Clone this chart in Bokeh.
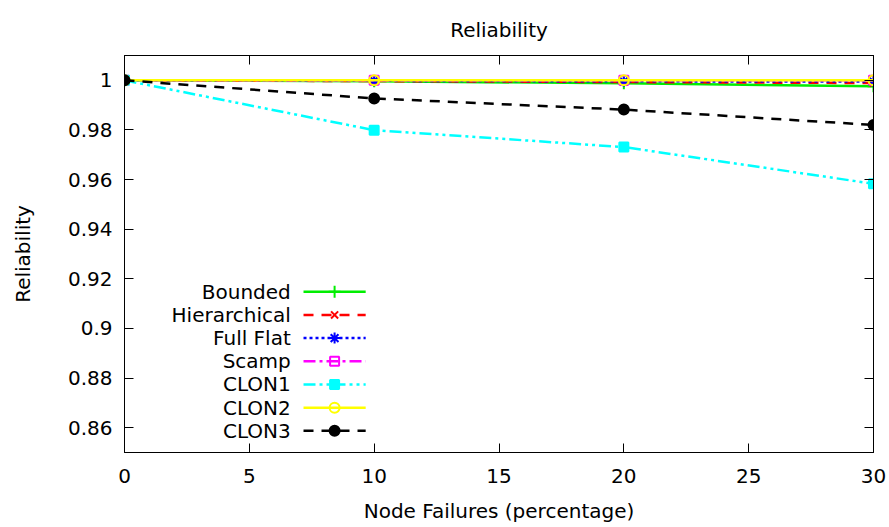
from bokeh.plotting import figure
from bokeh.models import FixedTicker, LinearAxis, Range1d, Label
from bokeh.embed import file_html
from bokeh.resources import INLINE

# ---- data ----
x = [0, 10, 20, 30]
bounded = [1.0, 0.9996, 0.9988, 0.9976]
hierarchical = [1.0, 0.9997, 0.9993, 0.9989]
full_flat = [1.0, 0.9998, 0.9996, 0.9995]
scamp = [1.0, 1.0, 1.0, 1.0]
clon1 = [1.0, 0.9799, 0.9731, 0.9583]
clon2 = [1.0, 1.0, 1.0, 1.0]
clon3 = [1.0, 0.9927, 0.9882, 0.9820]

series_names = ["Bounded", "Hierarchical", "Full Flat", "Scamp", "CLON1", "CLON2", "CLON3"]
series_values = [bounded, hierarchical, full_flat, scamp, clon1, clon2, clon3]

x_ticks = [0, 5, 10, 15, 20, 25, 30]
y_ticks = [0.86, 0.88, 0.90, 0.92, 0.94, 0.96, 0.98, 1.0]
y_tick_labels = ["0.86", "0.88", "0.9", "0.92", "0.94", "0.96", "0.98", "1"]

title_text = "Reliability"
x_label = "Node Failures (percentage)"
y_label = "Reliability"

# ---- styles ----
styles = [
    dict(color="#00ee00", dash="solid", marker="cross", fill=True),
    dict(color="#ff0000", dash="10 8", marker="x", fill=True),
    dict(color="#0000ff", dash="3 3", marker="asterisk", fill=True),
    dict(color="#ff00ff", dash="12 4 3 4", marker="square", fill=False),
    dict(color="#00ffff", dash="12 4 3 4 3 4", marker="square", fill=True),
    dict(color="#ffff00", dash="solid", marker="circle", fill=False),
    dict(color="#000000", dash="10 8", marker="circle", fill=True),
]
marker_sizes = {"cross": 12, "x": 10, "asterisk": 11, "square": 9, "circle": 10}

FONT = "DejaVu Sans"
FS = "20px"

x0, x1 = 0, 30
y0, y1 = 0.85, 1.01

p = figure(width=888, height=525, output_backend="svg", toolbar_location=None,
           x_range=Range1d(x0, x1), y_range=Range1d(y0, y1),
           min_border_left=124, min_border_right=15, min_border_top=55, min_border_bottom=70)

p.title.text = title_text
p.title.align = "center"
p.title.vertical_align = "bottom"
p.title.standoff = 28
p.title.text_font = FONT
p.title.text_font_size = FS
p.title.text_font_style = "normal"
p.title.text_color = "black"

p.grid.visible = False
p.outline_line_color = "black"
p.outline_line_width = 1
p.background_fill_color = "white"
p.border_fill_color = "white"

for ax in (p.xaxis[0], p.yaxis[0]):
    ax.major_tick_in = 9
    ax.major_tick_out = 0
    ax.minor_tick_line_color = None
    ax.axis_line_color = "black"
    ax.major_tick_line_color = "black"
    ax.major_label_text_font = FONT
    ax.major_label_text_font_size = FS
    ax.major_label_text_color = "black"
    ax.axis_label_text_font = FONT
    ax.axis_label_text_font_size = FS
    ax.axis_label_text_font_style = "normal"
    ax.axis_label_text_color = "black"

p.xaxis[0].ticker = FixedTicker(ticks=x_ticks)
p.yaxis[0].ticker = FixedTicker(ticks=y_ticks)
p.yaxis[0].major_label_overrides = {t: l for t, l in zip(y_ticks, y_tick_labels)}
p.xaxis[0].axis_label = x_label
p.yaxis[0].axis_label = y_label
p.xaxis[0].major_label_standoff = 16
p.yaxis[0].major_label_standoff = 12
p.xaxis[0].axis_label_standoff = 13
p.yaxis[0].axis_label_standoff = 30

# mirrored axes (ticks only)
top = LinearAxis(ticker=FixedTicker(ticks=x_ticks))
right = LinearAxis(ticker=FixedTicker(ticks=y_ticks))
top.major_label_overrides = {t: "" for t in x_ticks}
right.major_label_overrides = {t: "" for t in y_ticks}
for ax in (top, right):
    ax.major_tick_in = 9
    ax.major_tick_out = 0
    ax.minor_tick_line_color = None
    ax.major_label_standoff = 0
    ax.axis_line_color = "black"
    ax.major_tick_line_color = "black"
p.add_layout(top, "above")
p.add_layout(right, "right")

# series
for vals, st in zip(series_values, styles):
    p.line(x, vals, line_color=st["color"], line_width=2.5, line_dash=st["dash"])
    p.scatter(x, vals, marker=st["marker"], size=marker_sizes[st["marker"]],
              line_color=st["color"], line_width=2,
              fill_color=st["color"] if st["fill"] else None)

fx = lambda f: x0 + f * (x1 - x0)
fy = lambda f: y0 + f * (y1 - y0)

# legend (gnuplot style: text right-aligned, then sample)
leg_text_x = fx(0.222)
leg_line_a = fx(0.239)
leg_line_b = fx(0.322)
leg_mark = (leg_line_a + leg_line_b) / 2
row_top = 0.405
row_step = 0.0584
for i, (name, st) in enumerate(zip(series_names, styles)):
    yy = fy(row_top - i * row_step)
    p.add_layout(Label(x=leg_text_x, y=yy, text=name, text_align="right",
                       text_baseline="middle", text_font=FONT, text_font_size=FS,
                       text_color="black"))
    p.line([leg_line_a, leg_line_b], [yy, yy], line_color=st["color"], line_width=2.5,
           line_dash=st["dash"])
    p.scatter([leg_mark], [yy], marker=st["marker"], size=marker_sizes[st["marker"]],
              line_color=st["color"], line_width=2,
              fill_color=st["color"] if st["fill"] else None)

open("out.html", "w").write(file_html(p, INLINE))
